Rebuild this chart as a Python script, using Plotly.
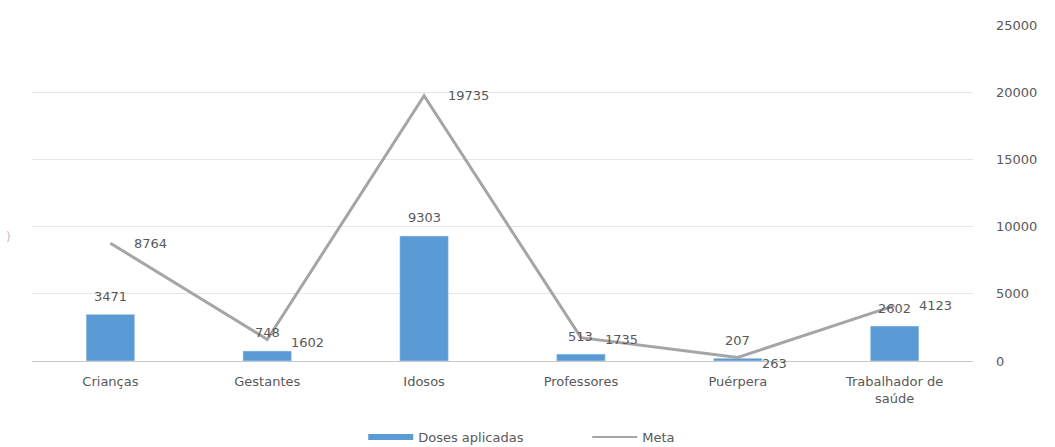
import plotly.graph_objects as go

categories = ["Crianças", "Gestantes", "Idosos", "Professores", "Puérpera", "Trabalhador de<br>saúde"]
doses = [3471, 748, 9303, 513, 207, 2602]
meta = [8764, 1602, 19735, 1735, 263, 4123]
y_ticks = [0, 5000, 10000, 15000, 20000, 25000]
y_tick_labels = ["0", "5000", "10000", "15000", "20000", "25000"]

BLUE = "#5b9bd5"
GRAY = "#a5a5a5"
TXT = "#595959"
FONT = "DejaVu Sans"

# label offsets (pixels) for the Meta labels
meta_yshift = [0, -3, 0, -2, -6, 0]

fig = go.Figure()
fig.add_trace(go.Bar(
    x=categories, y=doses, name="Doses aplicadas",
    marker=dict(color=BLUE), showlegend=False,
))
fig.add_trace(go.Scatter(
    x=categories, y=meta, name="Meta", mode="lines",
    line=dict(color=GRAY, width=3), showlegend=False,
))
# legend entries (drawn as lines, like the original)
fig.add_trace(go.Scatter(
    x=[None], y=[None], name="Doses aplicadas", mode="lines",
    line=dict(color=BLUE, width=6),
))
fig.add_trace(go.Scatter(
    x=[None], y=[None], name="Meta", mode="lines",
    line=dict(color=GRAY, width=2),
))

annotations = []
for c, v in zip(categories, doses):
    annotations.append(dict(x=c, y=v, xref="x", yref="y", text=str(v),
                            showarrow=False, yshift=18, xanchor="center", yanchor="middle",
                            font=dict(family=FONT, size=13, color=TXT)))
for c, v, ys in zip(categories, meta, meta_yshift):
    annotations.append(dict(x=c, y=v, xref="x", yref="y", text=str(v),
                            showarrow=False, xshift=22, yshift=ys, xanchor="left", yanchor="middle",
                            font=dict(family=FONT, size=13, color=TXT)))
annotations.append(dict(x=-0.03, y=(447 - 86 - 237) / (447 - 25 - 86), xref="paper", yref="paper",
                        text=")", showarrow=False, xanchor="left", yanchor="middle",
                        font=dict(family=FONT, size=12, color="#bfbfbf")))

fig.update_layout(
    width=1055, height=447,
    margin=dict(l=32, r=82, t=25, b=86, autoexpand=False),
    paper_bgcolor="white", plot_bgcolor="white",
    font=dict(family=FONT, size=13, color=TXT),
    bargap=0.69,
    showlegend=True,
    legend=dict(orientation="h", x=0.352, xanchor="left", y=-0.226, yanchor="middle",
                itemwidth=45, entrywidth=164, entrywidthmode="pixels",
                font=dict(family=FONT, size=13, color=TXT)),
    xaxis=dict(showline=True, linecolor="#c8c8c8", linewidth=1, ticks="",
               automargin=False, ticklabelstandoff=8,
               tickfont=dict(family=FONT, size=13, color=TXT)),
    yaxis=dict(side="right", range=[0, 25000], tickvals=y_ticks, ticktext=y_tick_labels,
               showgrid=True, gridcolor="#e6e6e6", zeroline=False, automargin=False,
               showline=False, ticks="", ticklabelstandoff=22,
               tickfont=dict(family=FONT, size=13, color=TXT)),
    annotations=annotations,
)

fig.write_html("out.html")
